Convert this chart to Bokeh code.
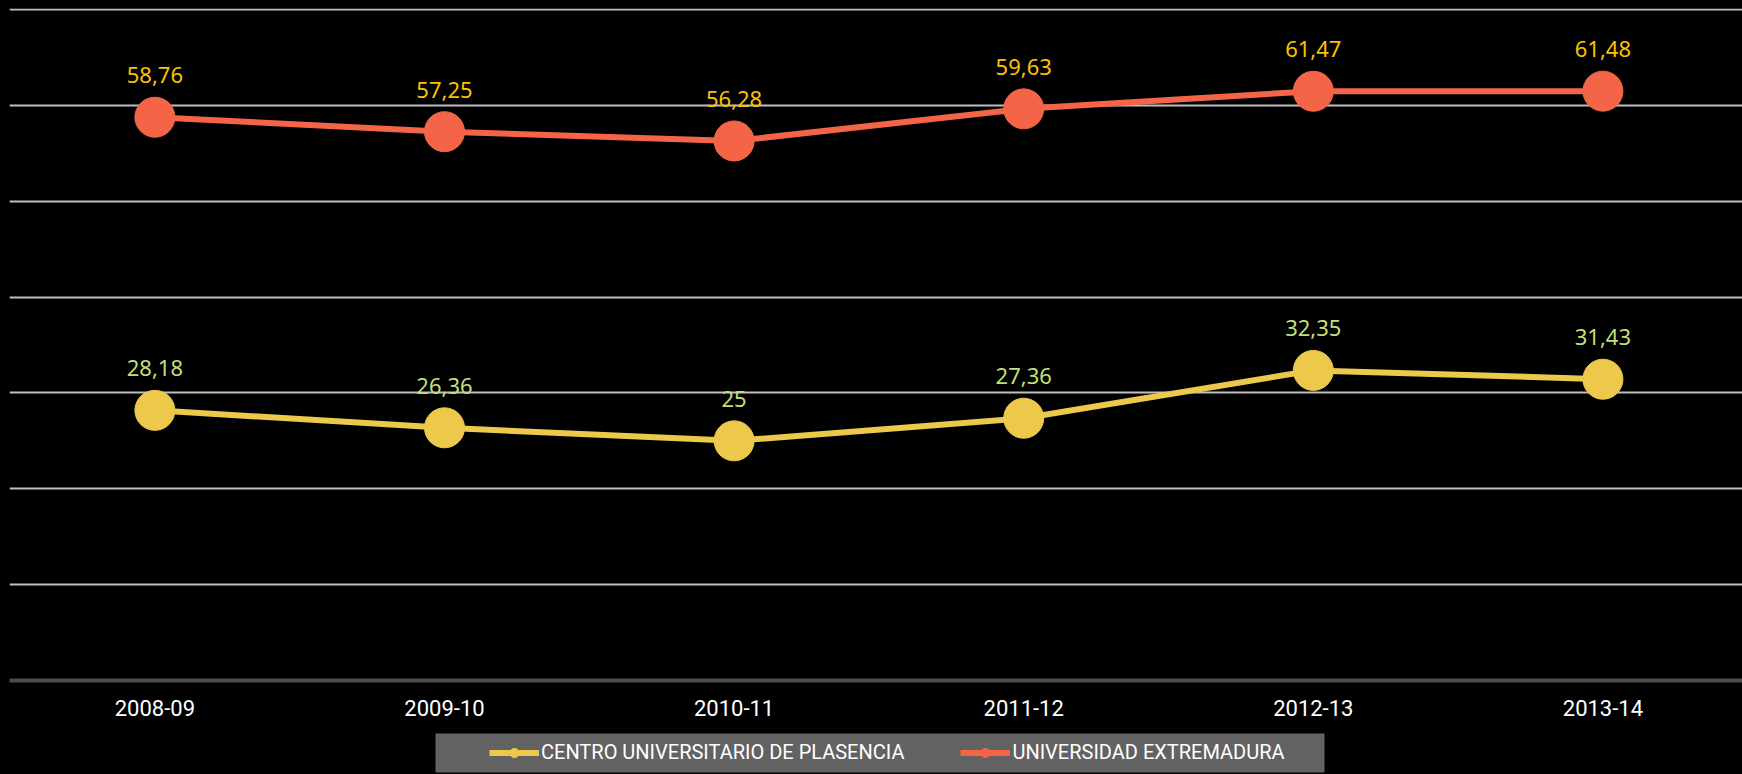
from bokeh.plotting import figure
from bokeh.layouts import column
from bokeh.models import ColumnDataSource, Range1d, FixedTicker, Legend, LegendItem, LabelSet, BoxAnnotation
from bokeh.embed import file_html
from bokeh.resources import INLINE
from bokeh.core.properties import value

categories = ["2008-09", "2009-10", "2010-11", "2011-12", "2012-13", "2013-14"]
plasencia = [28.18, 26.36, 25.0, 27.36, 32.35, 31.43]
uex = [58.76, 57.25, 56.28, 59.63, 61.47, 61.48]
series_names = ["CENTRO UNIVERSITARIO DE PLASENCIA", "UNIVERSIDAD EXTREMADURA"]
y_ticks = [0, 10, 20, 30, 40, 50, 60, 70]

def fmt(v):
    s = ("%.2f" % v).rstrip("0").rstrip(".")
    return s.replace(".", ",")

xs = list(range(len(categories)))
src_p = ColumnDataSource(dict(x=xs, y=plasencia, lab=[fmt(v) for v in plasencia]))
src_u = ColumnDataSource(dict(x=xs, y=uex, lab=[fmt(v) for v in uex]))

YEL = "#ECC94B"
ORA = "#F46548"
BLACK_CSS = {"background-color": "black"}

p = figure(width=1742, height=726, output_backend="svg", toolbar_location=None,
           x_range=Range1d(-0.502, 5.482), y_range=Range1d(0, 70.1),
           min_border_left=9, min_border_right=0, min_border_top=8, min_border_bottom=46,
           background_fill_color="black", border_fill_color="black")
p.outline_line_color = None
p.styles = BLACK_CSS

p.line("x", "y", source=src_p, line_color=YEL, line_width=6)
p.scatter("x", "y", source=src_p, size=40, fill_color=YEL, line_color=YEL)
p.line("x", "y", source=src_u, line_color=ORA, line_width=6)
p.scatter("x", "y", source=src_u, size=40, fill_color=ORA, line_color=ORA)

for src, col in ((src_p, "#C3DF7A"), (src_u, "#FFC000")):
    labels = LabelSet(x="x", y="y", text="lab", source=src, y_offset=42, x_offset=0,
                      text_align="center", text_baseline="middle",
                      text_color=col, text_font=value("Noto Sans"), text_font_size="22px")
    p.add_layout(labels)

p.yaxis.visible = False
p.yaxis.ticker = FixedTicker(ticks=y_ticks)
p.ygrid.ticker = FixedTicker(ticks=y_ticks[1:])
p.ygrid.grid_line_color = "#BFBFBF"
p.ygrid.grid_line_width = 2
p.xgrid.visible = False

xa = p.xaxis[0]
xa.ticker = FixedTicker(ticks=xs)
xa.major_label_overrides = {i: c for i, c in enumerate(categories)}
xa.axis_line_color = "#4D4D4D"
xa.axis_line_width = 4
xa.major_tick_line_color = None
xa.minor_tick_line_color = None
xa.major_label_standoff = 13
xa.major_label_text_color = "white"
xa.major_label_text_font = "Roboto"
xa.major_label_text_font_size = "22px"

# legend strip (x/y ranges map 1:1 to pixels of the strip)
lg = figure(width=1742, height=48, output_backend="svg", toolbar_location=None,
            x_range=Range1d(9, 1742), y_range=Range1d(0, 43),
            x_axis_location=None, y_axis_location=None,
            min_border_left=9, min_border_right=0, min_border_top=5, min_border_bottom=0,
            background_fill_color="black", border_fill_color="black")
lg.outline_line_color = None
lg.styles = BLACK_CSS
lg.xgrid.visible = False
lg.ygrid.visible = False
lg.add_layout(BoxAnnotation(left=435, right=1324, bottom=2, top=41,
                            fill_color="#626262", fill_alpha=1.0, line_color=None))
nan = float("nan")
items = []
for name, colr in zip(series_names, (YEL, ORA)):
    r1 = lg.line(x=[nan], y=[nan], line_color=colr, line_width=6)
    r2 = lg.scatter(x=[nan], y=[nan], size=12, fill_color=colr, line_color=colr)
    items.append(LegendItem(label=name, renderers=[r1, r2]))

legend = Legend(items=items, orientation="horizontal", location=(480, 10))
legend.background_fill_alpha = 0.0
legend.border_line_color = None
legend.label_text_color = "white"
legend.label_text_font = "Roboto"
legend.label_text_font_size = "20px"
legend.glyph_width = 50
legend.glyph_height = 23
legend.label_standoff = 2
legend.spacing = 56
legend.padding = 0
legend.margin = 0
lg.add_layout(legend, "center")

layout = column(p, lg, spacing=0)
layout.styles = BLACK_CSS
open("out.html", "w").write(file_html(layout, INLINE))
